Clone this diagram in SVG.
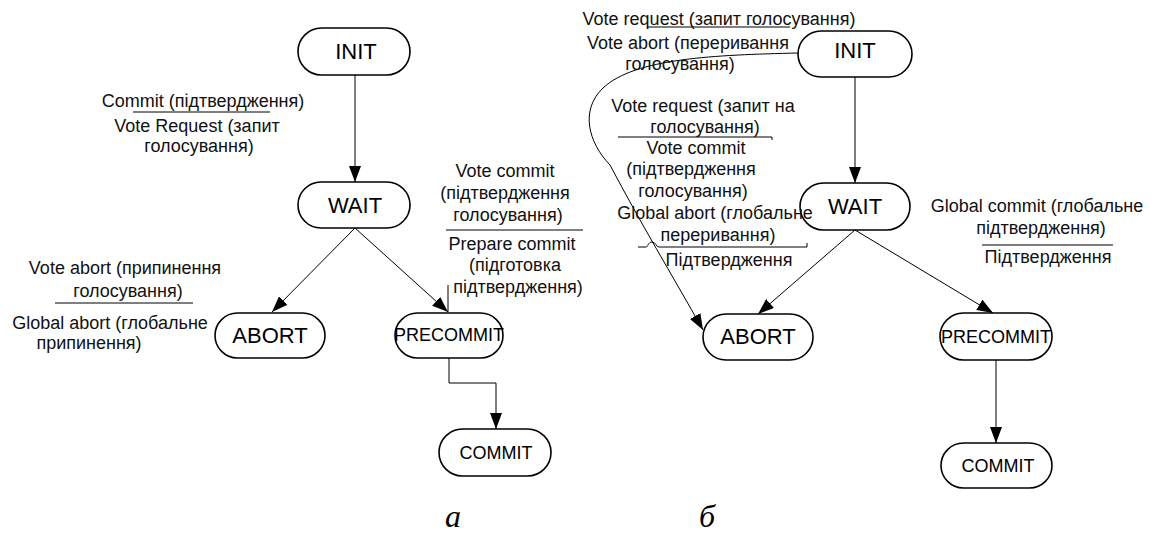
<svg xmlns="http://www.w3.org/2000/svg" width="1158" height="533" viewBox="0 0 1158 533">
  <style>
    .node rect { fill: #ffffff; stroke: #000000; stroke-width: 1.6; }
    .big { font-family: "Liberation Sans", Arial, sans-serif; font-size: 22px; fill: #000; text-anchor: middle; }
    .small { font-family: "Liberation Sans", Arial, sans-serif; font-size: 18px; fill: #000; text-anchor: middle; }
    .lbl { font-family: "Liberation Sans", Arial, sans-serif; font-size: 18px; fill: #111; text-anchor: middle; }
    .bar { fill: none; stroke: #000; stroke-width: 1; }
    .edge { fill: none; stroke: #000; stroke-width: 1; marker-end: url(#arrow); }
    .cap { font-family: "Liberation Serif", "Times New Roman", serif; font-style: italic; font-size: 32px; fill: #000; text-anchor: middle; }
  </style>
  <defs>
    <marker id="arrow" markerUnits="userSpaceOnUse" viewBox="0 0 16 12" refX="16" refY="6" markerWidth="16" markerHeight="12" orient="auto">
      <path d="M0,0 L16,6 L0,12 Z" fill="#000"/>
    </marker>
  </defs>
  <rect width="1158" height="533" fill="#ffffff"/>

  <!-- connectors -->
  <g id="connectors">
    <!-- left chart -->
    <path class="edge" d="M355 75 V182"/>
    <path class="edge" d="M355 228 L272 312"/>
    <path class="edge" d="M355 228 L448 312"/>
    <path class="bar" d="M448 285 V312"/>
    <path class="edge" d="M449 358 V383 H496 V429"/>
    <!-- right chart -->
    <path class="edge" d="M855 77 V183"/>
    <path class="edge" d="M855 230 L758 314"/>
    <path class="edge" d="M855 230 L993 313"/>
    <path class="edge" d="M996 360 V443"/>
    <path class="edge" d="M798 53 C715 55, 635 58, 603 88 C580 110, 588 142, 610 165 C640 222, 672 275, 703 330"/>
  </g>

  <!-- left chart nodes -->
  <g id="a-init" class="node">
    <rect x="298" y="28" width="112" height="47" rx="23.5"/>
    <text class="big" x="356" y="59">INIT</text>
  </g>
  <g id="a-wait" class="node">
    <rect x="298" y="182" width="112" height="46" rx="23"/>
    <text class="big" x="355" y="213">WAIT</text>
  </g>
  <g id="a-abort" class="node">
    <rect x="215" y="313" width="110" height="45" rx="22.5"/>
    <text class="big" x="270" y="343">ABORT</text>
  </g>
  <g id="a-precommit" class="node">
    <rect x="395" y="313" width="108" height="45" rx="22.5"/>
    <text class="small" x="449" y="341">PRECOMMIT</text>
  </g>
  <g id="a-commit" class="node">
    <rect x="439" y="429" width="112" height="47" rx="23.5"/>
    <text class="small" x="496" y="459">COMMIT</text>
  </g>

  <!-- left chart labels -->
  <g id="a-labels">
    <text class="lbl" x="203" y="107">Commit (підтвердження)</text>
    <path class="bar" d="M133 112 H270"/>
    <text class="lbl" x="197" y="132">Vote Request (запит</text>
    <text class="lbl" x="199" y="152">голосування)</text>

    <text class="lbl" x="125" y="274">Vote abort (припинення</text>
    <text class="lbl" x="128" y="297">голосування)</text>
    <path class="bar" d="M55 303 H193"/>
    <text class="lbl" x="110" y="329">Global abort (глобальне</text>
    <text class="lbl" x="89" y="349">припинення)</text>

    <text class="lbl" x="505" y="177">Vote commit</text>
    <text class="lbl" x="505" y="199">(підтвердження</text>
    <text class="lbl" x="508" y="221">голосування)</text>
    <path class="bar" d="M446 230 H583"/>
    <text class="lbl" x="512" y="250">Prepare commit</text>
    <text class="lbl" x="515" y="271">(підготовка</text>
    <text class="lbl" x="518" y="293">підтвердження)</text>
  </g>

  <!-- right chart nodes -->
  <g id="b-init" class="node">
    <rect x="798" y="31" width="114" height="46" rx="23"/>
    <text class="big" x="855" y="58">INIT</text>
  </g>
  <g id="b-wait" class="node">
    <rect x="800" y="183" width="110" height="47" rx="23.5"/>
    <text class="big" x="855" y="214">WAIT</text>
  </g>
  <g id="b-abort" class="node">
    <rect x="703" y="314" width="110" height="46" rx="23"/>
    <text class="big" x="758" y="344">ABORT</text>
  </g>
  <g id="b-precommit" class="node">
    <rect x="940" y="313" width="112" height="47" rx="23.5"/>
    <text class="small" x="996" y="343">PRECOMMIT</text>
  </g>
  <g id="b-commit" class="node">
    <rect x="941" y="443" width="111" height="45" rx="22.5"/>
    <text class="small" x="998" y="472">COMMIT</text>
  </g>

  <!-- right chart labels -->
  <g id="b-labels">
    <text class="lbl" x="719" y="25">Vote request (запит голосування)</text>
    <path class="bar" d="M647 27 H790"/>
    <text class="lbl" x="688" y="49">Vote abort (переривання</text>
    <text class="lbl" x="680" y="70">голосування)</text>

    <text class="lbl" x="703" y="112">Vote request (запит на</text>
    <text class="lbl" x="705" y="133">голосування)</text>
    <path class="bar" d="M618 137 H772 V140"/>
    <text class="lbl" x="696" y="154">Vote commit</text>
    <text class="lbl" x="691" y="175">(підтвердження</text>
    <text class="lbl" x="693" y="197">голосування)</text>
    <text class="lbl" x="715" y="219">Global abort (глобальне</text>
    <text class="lbl" x="718" y="241">переривання)</text>
    <path class="bar" d="M638 247 H646 C648 247 648 242 652 242 C656 242 656 247 659 247 H807 V243"/>
    <text class="lbl" x="729" y="266">Підтвердження</text>

    <text class="lbl" x="1037" y="212">Global commit (глобальне</text>
    <text class="lbl" x="1041" y="234">підтвердження)</text>
    <path class="bar" d="M982 245 H1113"/>
    <text class="lbl" x="1048" y="263">Підтвердження</text>
  </g>

  <!-- captions -->
  <text class="cap" x="453" y="527">а</text>
  <text class="cap" x="707" y="527">б</text>
</svg>
